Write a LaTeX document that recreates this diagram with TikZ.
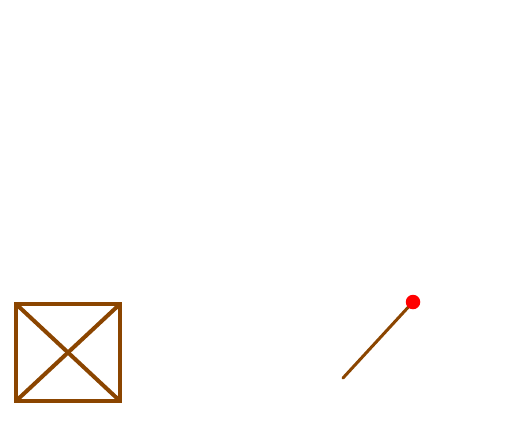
\documentclass[tikz,border=0pt]{standalone}
\usepackage{xcolor}
\usepackage{tikz}
\definecolor{stickbrown}{RGB}{139,69,0}

\begin{document}
\begin{tikzpicture}[x=0.02cm, y=-0.02cm]
    \useasboundingbox (0,0) rectangle (510,420);
    % 方框与对角线
    \draw[stickbrown, line width=0.08cm] (16,304) rectangle (120,401);
    \draw[stickbrown, line width=0.08cm] (16,304) -- (120,401);
    \draw[stickbrown, line width=0.08cm] (16,401) -- (120,304);

    % 杆与红点
    \coordinate (base) at (343,378);
    \coordinate (tip) at (413,302);
    \draw[stickbrown, line width=0.06cm, line cap=round] (base) -- (tip);
    \node[circle, fill=red, inner sep=0pt, minimum size=0.29cm] (dot) at (tip) {};
\end{tikzpicture}
\end{document}
